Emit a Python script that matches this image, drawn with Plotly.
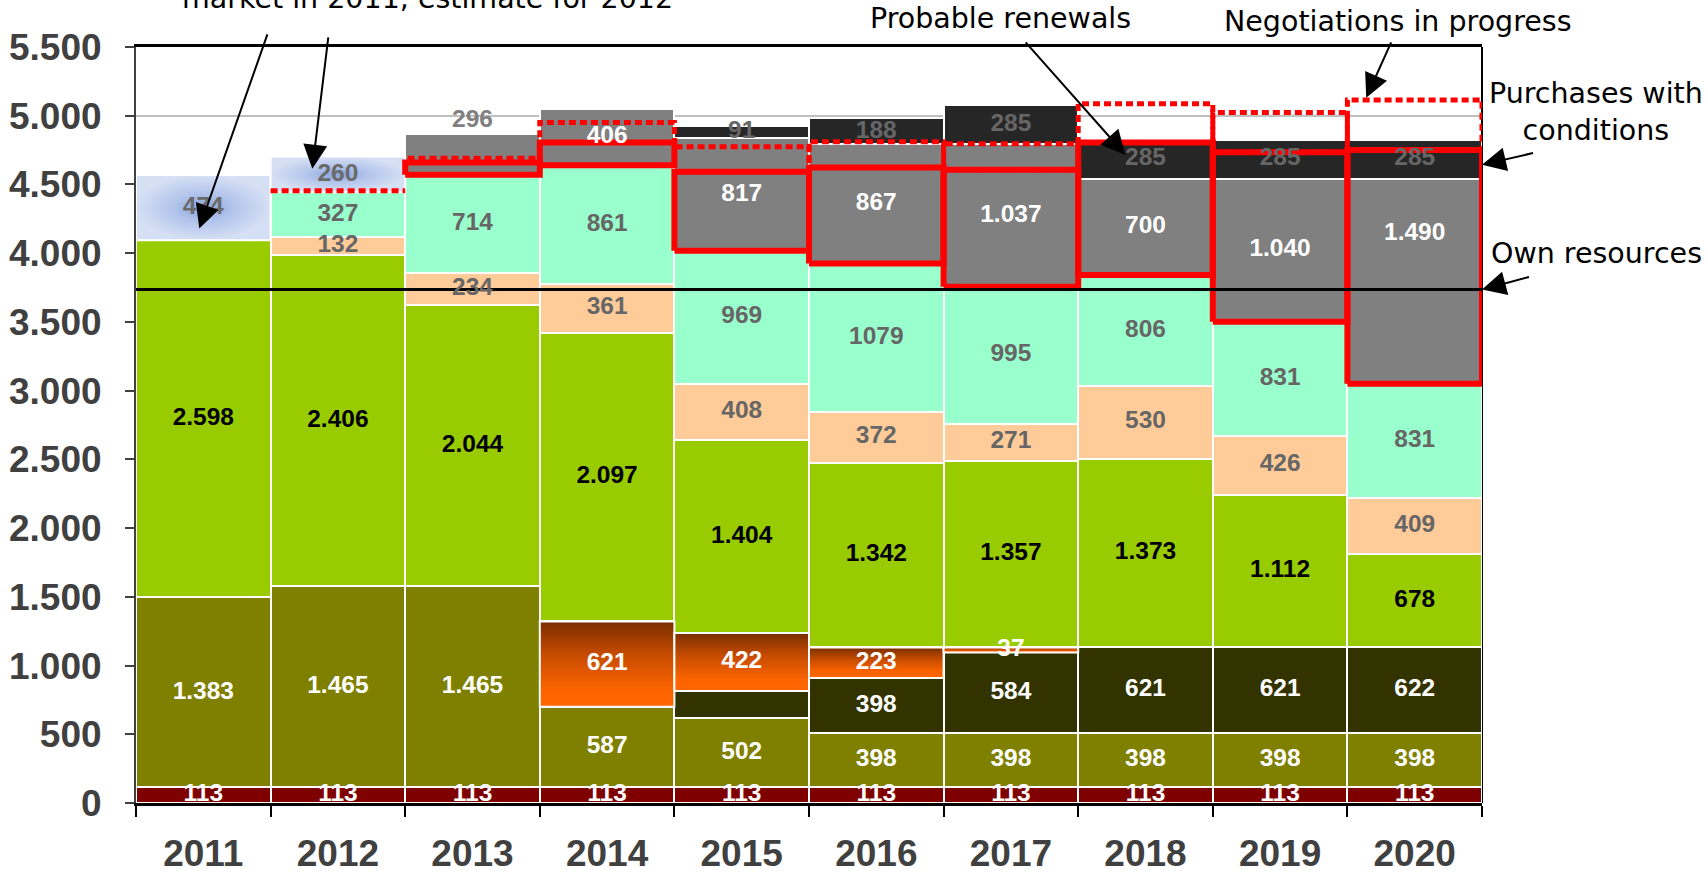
import plotly.graph_objects as go

# ---- data (GWh per year) ----
years = [2011, 2012, 2013, 2014, 2015, 2016, 2017, 2018, 2019, 2020]

fixed_base = [113, 113, 113, 113, 113, 113, 113, 113, 113, 113]
long_term = [1383, 1465, 1465, 587, 502, 398, 398, 398, 398, 398]
swaps = [None, None, None, None, 200, 398, 584, 621, 621, 622]
transitional = [None, None, None, 621, 422, 223, 37, None, None, None]
bilateral = [2598, 2406, 2044, 2097, 1404, 1342, 1357, 1373, 1112, 678]
regional = [None, 132, 234, 361, 408, 372, 271, 530, 426, 409]
framework = [None, 327, 714, 861, 969, 1079, 995, 806, 831, 831]
spot_market = [474, 260, None, None, None, None, None, None, None, None]
renewable_block = [None, None, 296, 406, 817, 867, 1037, 700, 1040, 1490]
conditional = [None, None, None, None, 91, 188, 285, 285, 285, 285]

# outline levels
renewals_top = [None, None, 4660, 4806, 4593, 4624, 4607, 4806, 4734, 4750]
negotiations_top = [None, 4455, 4690, 4951, 4775, 4811, 4796, 5087, 5024, 5114]
own_resources = 3735

series = [
    # name, values, fill, label colour
    ("Fixed base", fixed_base, "#7f0000", "white"),
    ("Long-term", long_term, "#808000", "white"),
    ("Swaps", swaps, "#333300", "white"),
    ("Transitional", transitional, "#d04c00", "white"),
    ("Bilateral", bilateral, "#99cc00", "black"),
    ("Regional", regional, "#ffcc99", "#666666"),
    ("Framework", framework, "#99ffcc", "#666666"),
    ("Spot market", spot_market, "#c5d3f0", "#6a6a6a"),
    ("Renewable block", renewable_block, "#808080", "white"),
    ("Conditional", conditional, "#262626", "#666666"),
]
unlabeled = {("Swaps", 2015)}
label_above = {("Renewable block", 2013)}
# labels kept in the part of the segment above the own-resources line
label_above_line = {("Renewable block", 2020)}
plain_number = {("Framework", 2016)}


def fmt(v, plain=False):
    return str(v) if plain else f"{v:,}".replace(",", ".")


# cumulative stacking bases
bases = {}
running = [0] * len(years)
for name, vals, _, _ in series:
    bases[name] = list(running)
    running = [r + (v or 0) for r, v in zip(running, vals)]

fig = go.Figure()

for name, vals, color, _ in series:
    fig.add_trace(go.Bar(
        x=years, y=vals, name=name, width=1,
        marker=dict(color=color, line=dict(color="white", width=2)),
        hoverinfo="skip",
    ))


def rect(yr, y0, y1):
    return [yr - 0.5, yr + 0.5, yr + 0.5, yr - 0.5, yr - 0.5], [y0, y0, y1, y1, y0]


# gradient fills for spot-market and transitional segments
for i, yr in enumerate(years):
    v = spot_market[i]
    if v:
        b = bases["Spot market"][i]
        xs, ys = rect(yr, b, b + v)
        fig.add_trace(go.Scatter(
            x=xs, y=ys, mode="lines", fill="toself",
            line=dict(color="white", width=2),
            fillgradient=dict(type="radial",
                              colorscale=[[0, "#86a2de"], [0.45, "#b3c5ec"], [1, "#d6e0f4"]]),
            hoverinfo="skip", showlegend=False,
        ))
    v = transitional[i]
    if v:
        b = bases["Transitional"][i]
        xs, ys = rect(yr, b, b + v)
        fig.add_trace(go.Scatter(
            x=xs, y=ys, mode="lines", fill="toself",
            line=dict(color="white", width=2),
            fillgradient=dict(type="vertical",
                              colorscale=[[0, "#ff6600"], [0.2, "#fc6400"], [0.6, "#c84c00"], [1, "#7a2e00"]]),
            hoverinfo="skip", showlegend=False,
        ))

# probable renewals (solid) and negotiations in progress (dotted) outlines
solid_x, solid_y, dot_x, dot_y = [], [], [], []
for i, yr in enumerate(years):
    rt = renewals_top[i]
    nt = negotiations_top[i]
    if rt is not None:
        xs, ys = rect(yr, bases["Renewable block"][i], rt)
        solid_x += xs + [None]
        solid_y += ys + [None]
        if nt is not None:
            xs, ys = rect(yr, rt, nt)
            dot_x += xs + [None]
            dot_y += ys + [None]
    elif nt is not None:
        dot_x += [yr - 0.5, yr + 0.5, None]
        dot_y += [nt, nt, None]

fig.add_trace(go.Scatter(x=solid_x, y=solid_y, mode="lines",
                         line=dict(color="#ff0000", width=6), cliponaxis=False,
                         hoverinfo="skip", showlegend=False))
fig.add_trace(go.Scatter(x=dot_x, y=dot_y, mode="lines",
                         line=dict(color="#ff0000", width=5, dash="7px,4px"), cliponaxis=False,
                         hoverinfo="skip", showlegend=False))

# own resources level
fig.add_trace(go.Scatter(x=[years[0] - 0.5, years[-1] + 0.5], y=[own_resources, own_resources],
                         mode="lines", line=dict(color="black", width=3),
                         hoverinfo="skip", showlegend=False))

# segment value labels
for name, vals, _, tcolor in series:
    lx, ly, lt, lc = [], [], [], []
    for i, yr in enumerate(years):
        v = vals[i]
        if not v or (name, yr) in unlabeled:
            continue
        b = bases[name][i]
        if (name, yr) in label_above:
            ly.append(b + v + 95)
            lc.append("#7f7f7f")
        elif (name, yr) in label_above_line:
            ly.append((own_resources + b + v) / 2)
            lc.append(tcolor)
        else:
            ly.append(b + v / 2)
            lc.append(tcolor)
        lx.append(yr)
        lt.append(fmt(v, (name, yr) in plain_number))
    fig.add_trace(go.Scatter(
        x=lx, y=ly, text=lt, mode="text",
        textfont=dict(family="Liberation Sans, Arial, sans-serif", size=24.5, color=lc, weight="bold"),
        hoverinfo="skip", showlegend=False,
    ))

note_font = dict(family="DejaVu Sans, Verdana, sans-serif", size=28.5, color="black")
notes = [
    ("market in 2011, estimate for 2012", 0.2169, 1.0397, "bottom"),
    ("Probable renewals", 0.6426, 1.0377, "middle"),
    ("Negotiations in progress", 0.9376, 1.0331, "middle"),
    ("Purchases with<br>conditions", 1.0847, 0.914, "middle"),
    ("Own resources", 1.0847, 0.7275, "middle"),
]
annotations = [
    dict(text=t, x=x, y=y, xref="paper", yref="paper", xanchor="center", yanchor=ya,
         showarrow=False, font=note_font)
    for t, x, y, ya in notes
]

# pointer arrows: (head x, head y, tail x, tail y)
pointers = [
    (2010.97, 4179, 2011.48, 5603),
    (2011.81, 4615, 2011.93, 5581),
    (2017.85, 4717, 2017.10, 5545),
    (2019.64, 5131, 2019.83, 5545),
    (2020.5, 4643, 2020.89, 4731),
    (2020.5, 3735, 2020.86, 3830),
]
for hx, hy, tx, ty in pointers:
    annotations.append(dict(
        x=hx, y=hy, ax=tx, ay=ty, xref="x", yref="y", axref="x", ayref="y",
        text="", showarrow=True, arrowhead=2, arrowsize=2.4, arrowwidth=2,
        arrowcolor="black", standoff=0, startstandoff=0,
    ))

tick_font = dict(family="Liberation Sans, Arial, sans-serif", size=37, color="#404040", weight="bold")

fig.update_layout(
    width=1706, height=876,
    margin=dict(l=136, r=224, t=47, b=73),
    barmode="stack", bargap=0,
    plot_bgcolor="white", paper_bgcolor="white",
    showlegend=False, separators=",.",
    font=dict(family="Liberation Sans, Arial, sans-serif"),
    annotations=annotations,
    shapes=[dict(type="line", xref="paper", yref="paper", x0=1, x1=1, y0=0, y1=1,
                 line=dict(color="black", width=2), layer="below")],
    xaxis=dict(
        range=[years[0] - 0.5, years[-1] + 0.5], automargin=False,
        tickmode="array", tickvals=years, ticktext=[str(y) for y in years],
        ticks="", showgrid=False, zeroline=False,
        showline=True, linecolor="black", linewidth=3, mirror=True,
        tickfont=tick_font, ticklabelstandoff=16,
        minor=dict(tick0=years[0] - 0.5, dtick=1, ticks="outside", ticklen=11,
                   tickwidth=2, tickcolor="black", showgrid=False),
    ),
    yaxis=dict(
        range=[0, 5500], tick0=0, dtick=500, tickformat=",d", automargin=False,
        showgrid=True, gridcolor="#c0c0c0", gridwidth=2, zeroline=False,
        ticks="outside", ticklen=9, tickwidth=2, tickcolor="#404040",
        showline=True, linecolor="#404040", linewidth=2,
        tickfont=tick_font, ticklabelstandoff=16,
    ),
)

fig.write_html("out.html")
